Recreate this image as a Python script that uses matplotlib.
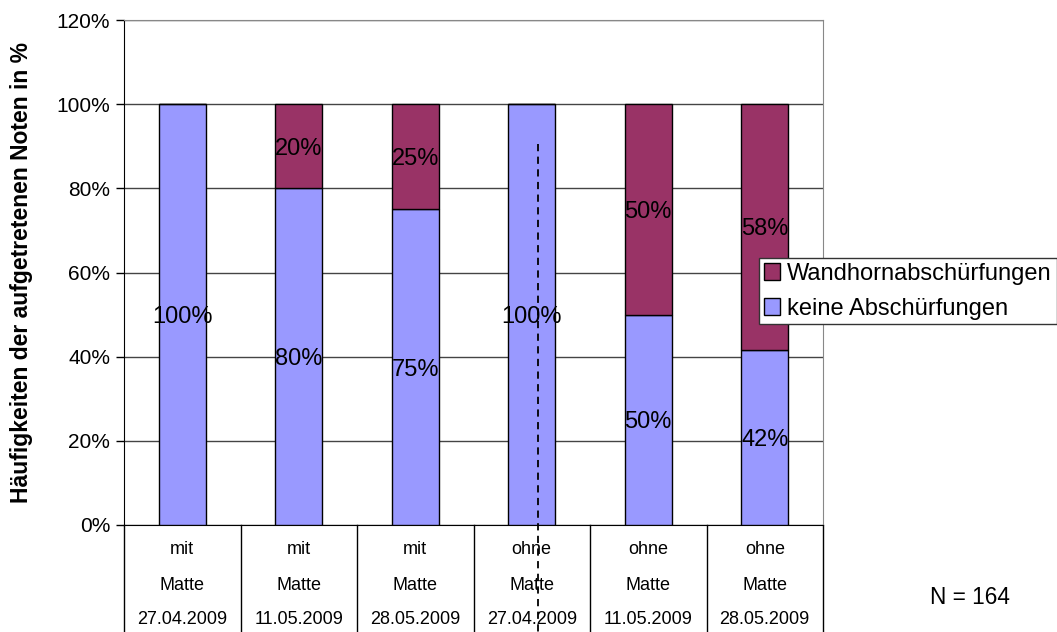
import numpy as np
import matplotlib
matplotlib.use('Agg')
import matplotlib.pyplot as plt
import matplotlib.transforms as mtransforms

plt.rcParams['font.family'] = ['Liberation Sans', 'DejaVu Sans']

# Daten
zeile1 = ['mit', 'mit', 'mit', 'ohne', 'ohne', 'ohne']
zeile2 = ['Matte', 'Matte', 'Matte', 'Matte', 'Matte', 'Matte']
zeile3 = ['27.04.2009', '11.05.2009', '28.05.2009', '27.04.2009', '11.05.2009', '28.05.2009']
keine = [100, 80, 75, 100, 50, 41.7]
wandhorn = [0, 20, 25, 0, 50, 58.3]
y_ticks = [0, 20, 40, 60, 80, 100, 120]

# gestrichelte Trennlinie (x in Kategorie-Koordinaten, y in %)
trenn_x = 3.05
trenn_y_oben = 90.5

blau = '#9999FF'
rot = '#993366'

fig = plt.figure(figsize=(10.57, 6.32), dpi=100)
ax = fig.add_axes([124 / 1057, 1 - 525 / 632, 699 / 1057, 505 / 632])

x = np.arange(len(keine))
b1 = ax.bar(x, keine, width=0.4, color=blau, edgecolor='black', linewidth=1,
            label='keine Abschürfungen', zorder=3)
b2 = ax.bar(x, wandhorn, width=0.4, bottom=keine, color=rot, edgecolor='black',
            linewidth=1, label='Wandhornabschürfungen', zorder=3)

# Beschriftungen in den Balken
for i in range(len(x)):
    if keine[i] > 0:
        ax.text(x[i], keine[i] / 2, f'{round(keine[i])}%', ha='center', va='center_baseline',
                fontsize=17, zorder=5)
    if wandhorn[i] > 0:
        ax.text(x[i], keine[i] + wandhorn[i] / 2, f'{round(wandhorn[i])}%',
                ha='center', va='center_baseline', fontsize=17, zorder=5)

ax.set_xlim(-0.5, len(x) - 0.5)
ax.set_ylim(0, 120)
ax.set_yticks(y_ticks)
ax.set_yticklabels([f'{v}%' for v in y_ticks], fontsize=15)
ax.tick_params(axis='y', direction='out', length=6, width=1, pad=4)
ax.set_xticks([])
ax.yaxis.grid(True, color='#444444', linewidth=1, zorder=0)

for s in ['top', 'right']:
    ax.spines[s].set_color('#888888')
ax.spines['left'].set_color('black')
ax.spines['bottom'].set_color('black')

# mehrzeilige Kategorienbeschriftung
trans = mtransforms.blended_transform_factory(ax.transData, ax.transAxes)
for i in range(len(x)):
    ax.text(x[i], -25 / 505, zeile1[i], transform=trans, ha='center', va='center', fontsize=13)
    ax.text(x[i], -61 / 505, zeile2[i], transform=trans, ha='center', va='center', fontsize=13)
    ax.text(x[i], -95 / 505, zeile3[i], transform=trans, ha='center', va='center', fontsize=13)
for g in np.arange(-0.5, len(x), 1.0):
    ax.plot([g, g], [0, -0.3], transform=trans, color='black', linewidth=1, clip_on=False)

# gestrichelte Linie
ax.plot([trenn_x, trenn_x], [trenn_y_oben, -40], color='black', linestyle=(0, (4, 3)),
        linewidth=1.3, clip_on=False, zorder=6)

fig.text(22 / 1057, 1 - 272 / 632, 'Häufigkeiten der aufgetretenen Noten in %',
         rotation=90, ha='center', va='center', fontsize=16.5, fontweight='bold')
fig.text(970 / 1057, 1 - 597 / 632, 'N = 164', ha='center', va='center', fontsize=16.3)

leg = ax.legend(handles=[b2, b1], loc='upper left', bbox_to_anchor=(759 / 1057, 1 - 258 / 632),
                bbox_transform=fig.transFigure, fontsize=17, frameon=True, fancybox=False,
                edgecolor='#333333', framealpha=1, borderpad=0.2, handlelength=0.7,
                handleheight=0.7, handletextpad=0.3, labelspacing=0.55, borderaxespad=0)
leg.get_frame().set_linewidth(1)

fig.savefig('out.png', dpi=100)
